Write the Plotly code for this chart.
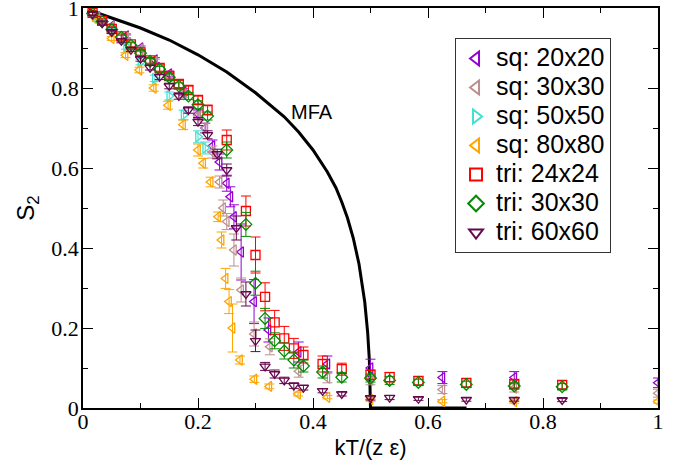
import plotly.graph_objects as go

# ---------------- data ----------------
# Mean-field curve
mfa_t = [0.01, 0.05, 0.10, 0.15, 0.20, 0.25, 0.30, 0.35, 0.375, 0.40, 0.425, 0.44, 0.45, 0.46, 0.47,
         0.48, 0.49, 0.495, 0.498, 0.50, 0.667]
mfa_s = [0.995, 0.975, 0.95, 0.92, 0.883, 0.84, 0.788, 0.728, 0.69, 0.645, 0.59, 0.55, 0.515, 0.475, 0.425,
         0.36, 0.265, 0.19, 0.12, 0.0, 0.0]

# square lattice 20x20
sq20_t = [0.025, 0.05, 0.075, 0.1, 0.125, 0.15, 0.175, 0.2, 0.2125, 0.225, 0.2375, 0.25, 0.25625, 0.2625,
          0.275, 0.2975, 0.3225, 0.375, 0.425, 0.5, 0.625, 0.75, 1.0]
sq20_s = [0.978, 0.955, 0.93, 0.90, 0.87, 0.835, 0.79, 0.735, 0.70, 0.655, 0.615, 0.562, 0.528, 0.478,
          0.39, 0.266, 0.195, 0.14, 0.11, 0.10, 0.076, 0.076, 0.063]
sq20_e = [0.004, 0.004, 0.005, 0.005, 0.006, 0.007, 0.008, 0.01, 0.012, 0.015, 0.02, 0.02, 0.025, 0.03,
          0.07, 0.055, 0.03, 0.025, 0.02, 0.022, 0.015, 0.015, 0.012]

# square lattice 30x30
sq30_t = [0.025, 0.05, 0.075, 0.1, 0.125, 0.15, 0.175, 0.2, 0.2125, 0.225, 0.2375, 0.24375, 0.25, 0.2625,
          0.275, 0.2975, 0.325, 0.375, 0.425, 0.5, 0.625, 0.75, 1.0]
sq30_s = [0.977, 0.953, 0.927, 0.897, 0.866, 0.83, 0.785, 0.73, 0.70, 0.64, 0.565, 0.50, 0.466, 0.395,
          0.295, 0.185, 0.153, 0.092, 0.075, 0.07, 0.046, 0.05, 0.037]
sq30_e = [0.004, 0.004, 0.005, 0.005, 0.006, 0.007, 0.008, 0.01, 0.012, 0.015, 0.015, 0.02, 0.02, 0.04,
          0.03, 0.03, 0.02, 0.015, 0.012, 0.012, 0.01, 0.01, 0.01]

# square lattice 50x50
sq50_t = [0.025, 0.05, 0.075, 0.1, 0.125, 0.15, 0.175, 0.2, 0.2125]
sq50_s = [0.975, 0.945, 0.903, 0.865, 0.824, 0.78, 0.7325, 0.678, 0.65]
sq50_e = [0.004, 0.005, 0.006, 0.007, 0.008, 0.01, 0.012, 0.015, 0.015]

# square lattice 80x80
sq80_t = [0.024, 0.05, 0.074, 0.098, 0.123, 0.148, 0.174, 0.2, 0.209, 0.222, 0.235, 0.241, 0.248, 0.254,
          0.26, 0.273, 0.298, 0.324, 0.374, 0.425, 0.5, 0.625, 0.75, 1.0]
sq80_s = [0.97, 0.924, 0.882, 0.845, 0.80, 0.757, 0.708, 0.645, 0.612, 0.565, 0.478, 0.42, 0.324, 0.266,
          0.20, 0.12, 0.072, 0.054, 0.035, 0.027, 0.021, 0.017, 0.016, 0.016]
sq80_e = [0.004, 0.005, 0.006, 0.007, 0.008, 0.01, 0.012, 0.015, 0.012, 0.012, 0.012, 0.02, 0.025, 0.03,
          0.06, 0.01, 0.008, 0.006, 0.005, 0.004, 0.004, 0.004, 0.004, 0.004]

# triangular lattice 24x24
tri24_t = [1/60, 2/60, 3/60, 4/60, 5/60, 6/60, 7/60, 8/60, 9/60, 10/60, 11/60, 12/60, 13/60, 15/60,
           17/60, 18/60, 19/60, 20/60, 21/60, 22/60, 23/60, 25/60, 27/60, 30/60, 32/60, 35/60, 40/60, 45/60, 50/60]
tri24_s = [0.988, 0.968, 0.948, 0.929, 0.909, 0.889, 0.869, 0.850, 0.830, 0.810, 0.795, 0.770, 0.745, 0.670,
           0.4925, 0.3825, 0.278, 0.214, 0.174, 0.149, 0.1325, 0.11, 0.097, 0.083, 0.077, 0.068, 0.063, 0.06, 0.058]
tri24_e = [0.005, 0.005, 0.005, 0.006, 0.006, 0.007, 0.007, 0.008, 0.008, 0.009, 0.01, 0.01, 0.012, 0.025,
           0.0375, 0.045, 0.035, 0.03, 0.03, 0.025, 0.02, 0.02, 0.015, 0.012, 0.012, 0.01, 0.01, 0.01, 0.01]

# triangular lattice 30x30
tri30_t = [1/60, 2/60, 3/60, 4/60, 5/60, 6/60, 7/60, 8/60, 9/60, 10/60, 11/60, 12/60, 13/60, 15/60,
           17/60, 18/60, 19/60, 20/60, 21/60, 22/60, 23/60, 25/60, 27/60, 30/60, 32/60, 35/60, 40/60, 45/60, 50/60]
tri30_s = [0.986, 0.966, 0.946, 0.927, 0.907, 0.887, 0.867, 0.847, 0.827, 0.805, 0.78, 0.758, 0.73, 0.645,
           0.459, 0.312, 0.224, 0.168, 0.1425, 0.12, 0.105, 0.09, 0.077, 0.075, 0.069, 0.064, 0.059, 0.055, 0.053]
tri30_e = [0.004, 0.004, 0.005, 0.005, 0.006, 0.006, 0.007, 0.007, 0.008, 0.008, 0.009, 0.01, 0.01, 0.02,
           0.03, 0.03, 0.025, 0.02, 0.02, 0.02, 0.015, 0.015, 0.012, 0.01, 0.01, 0.008, 0.008, 0.008, 0.008]

# triangular lattice 60x60
tri60_t = [1/60, 2/60, 3/60, 4/60, 5/60, 6/60, 7/60, 8/60, 9/60, 10/60, 11/60, 12/60, 13/60, 14/60, 15/60,
           16/60, 17/60, 18/60, 19/60, 20/60, 21/60, 22/60, 23/60, 25/60, 27/60, 30/60, 32/60, 35/60, 40/60, 45/60, 50/60]
tri60_s = [0.985, 0.962, 0.940, 0.918, 0.896, 0.873, 0.851, 0.828, 0.805, 0.78, 0.745, 0.716, 0.683, 0.635, 0.595,
           0.45, 0.285, 0.168, 0.104, 0.085, 0.069, 0.056, 0.051, 0.043, 0.035, 0.025, 0.026, 0.023, 0.021, 0.021, 0.02]
tri60_e = [0.004, 0.004, 0.004, 0.005, 0.005, 0.006, 0.006, 0.007, 0.007, 0.008, 0.008, 0.01, 0.01, 0.012, 0.015,
           0.03, 0.03, 0.027, 0.01, 0.01, 0.008, 0.007, 0.006, 0.005, 0.005, 0.005, 0.005, 0.004, 0.004, 0.004, 0.004]

series = [
    ("sq: 20x20", sq20_t, sq20_s, sq20_e, "#9400D3", "triangle-left-open"),
    ("sq: 30x30", sq30_t, sq30_s, sq30_e, "#BC8F8F", "triangle-left-open"),
    ("sq: 50x50", sq50_t, sq50_s, sq50_e, "#40E0D0", "triangle-right-open"),
    ("sq: 80x80", sq80_t, sq80_s, sq80_e, "#FFA500", "triangle-left-open"),
    ("tri: 24x24", tri24_t, tri24_s, tri24_e, "#FF0000", "square-open"),
    ("tri: 30x30", tri30_t, tri30_s, tri30_e, "#008B00", "diamond-open"),
    ("tri: 60x60", tri60_t, tri60_s, tri60_e, "#67074E", "triangle-down-open"),
]

SERIF = "Liberation Serif, Times New Roman, Times, serif"
SANS = "Liberation Sans, Arial, Helvetica, sans-serif"

fig = go.Figure()

fig.add_trace(go.Scatter(x=mfa_t, y=mfa_s, mode="lines",
                         line=dict(color="black", width=3),
                         showlegend=False, hoverinfo="skip"))

for name, t, s, e, col, sym in series:
    fig.add_trace(go.Scatter(
        x=t, y=s, mode="markers",
        name='<span style="font-size:25px">' + name + '</span>',
        marker=dict(symbol=sym, size=9, color=col, line=dict(color=col, width=1.3)),
        error_y=dict(type="data", array=e, visible=True, color=col, thickness=1, width=5),
    ))

fig.add_annotation(x=0.399, y=0.74, xref="x", yref="y", text="MFA", showarrow=False,
                   font=dict(family=SANS, size=20, color="black"))

axis_common = dict(
    range=[0, 1], showline=True, linecolor="black", linewidth=1.5, mirror="ticks",
    ticks="inside", ticklen=10, tickwidth=1.2, tickcolor="black", dtick=0.2, tick0=0,
    minor=dict(ticks="inside", ticklen=5, tickwidth=1.2, tickcolor="black", dtick=0.1),
    showgrid=False, zeroline=False, automargin=False, ticklabeloverflow="allow",
    tickfont=dict(family=SERIF, size=22, color="black"),
)

fig.update_layout(
    width=679, height=466,
    margin=dict(l=83, r=21, t=8, b=58, autoexpand=False),
    paper_bgcolor="white", plot_bgcolor="white",
    hovermode=False,
    xaxis=dict(**axis_common, ticklabelstandoff=-7,
               title=dict(text="kT/(z ε)", font=dict(family=SANS, size=22, color="black"), standoff=6)),
    yaxis=dict(**axis_common, ticklabelstandoff=-2,
               title=dict(text="S<sub>2</sub>", font=dict(family=SANS, size=24, color="black"), standoff=10)),
    legend=dict(x=0.647, y=0.925, xanchor="left", yanchor="top",
                bgcolor="white", bordercolor="#333333", borderwidth=1,
                font=dict(family=SANS, size=20, color="black"),
                tracegroupgap=0, itemsizing="constant"),
    showlegend=True,
)

fig.write_html("out.html", config={"displayModeBar": False},
               post_script="document.body.style.margin='0px';")
